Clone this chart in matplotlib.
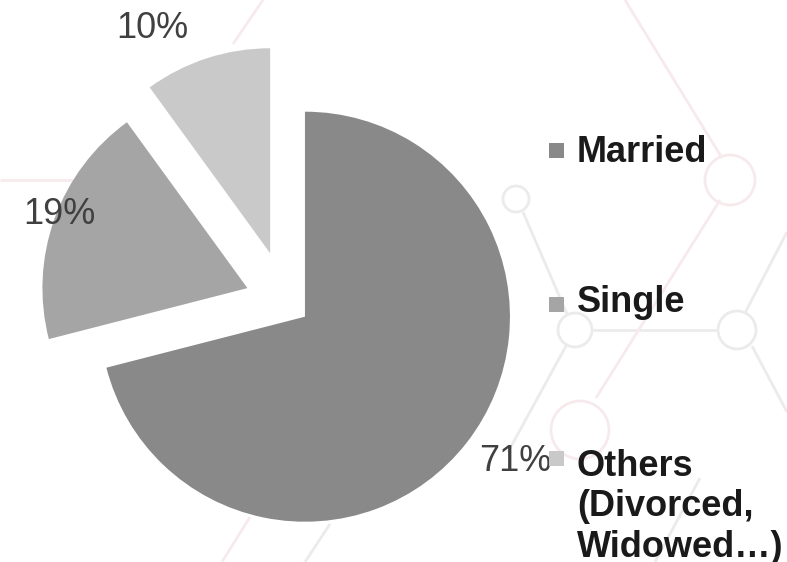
import matplotlib.pyplot as plt
import numpy as np
from matplotlib.patches import Rectangle, Circle

# данные
categories = ['Married', 'Single', 'Others\n(Divorced,\nWidowed…)']
values = [71, 19, 10]
colors = ['#898989', '#a5a5a5', '#c9c9c9']
explode = [0.117, 0.20, 0.25]

# расположение подписей процентов (доля радиуса, сдвиг угла)
pct_dist = [1.243, 0.982, 1.238]
pct_shift = [3.3, -1.5, 9.6]

W, H = 787, 562
cx_px, cy_px, r_px = 286, 302, 205

fig = plt.figure(figsize=(W / 100, H / 100), dpi=100)

# фон: бледные "молекулы" (в пикселях)
bg = fig.add_axes([0, 0, 1, 1], zorder=0)
bg.set_xlim(0, W)
bg.set_ylim(H, 0)
bg.axis('off')
grey, pink = '#ebebeb', '#f7eaec'
segs = [
    ((625, 0), (722, 158), pink),
    ((523, 212), (567, 314), grey),
    ((593, 330), (718, 330), grey),
    ((745, 313), (787, 232), grey),
    ((720, 200), (596, 398), pink),
    ((566, 346), (508, 452), grey),
    ((752, 346), (787, 412), grey),
    ((0, 180), (77, 180), pink),
    ((263, 0), (233, 44), pink),
    ((222, 562), (250, 517), pink),
    ((305, 562), (330, 524), grey),
    ((655, 562), (700, 478), grey),
]
for (x1, y1), (x2, y2), c in segs:
    bg.plot([x1, x2], [y1, y2], color=c, lw=2, solid_capstyle='butt')
for (x, y, r, c) in [(516, 199, 13, grey), (575, 330, 17, grey),
                     (737, 330, 19, grey), (730, 180, 25, pink),
                     (580, 430, 29, pink)]:
    bg.add_patch(Circle((x, y), r, fill=False, ec=c, lw=2))

ax = fig.add_axes([0, 0, 1, 1], zorder=1)
ax.patch.set_visible(False)

wedges, _ = ax.pie(values, colors=colors, startangle=90, counterclock=False,
                   explode=explode, radius=1, wedgeprops=dict(linewidth=0))

for w, v, d, s in zip(wedges, values, pct_dist, pct_shift):
    mid = np.deg2rad((w.theta1 + w.theta2) / 2 + s)
    x0, y0 = w.center
    ax.text(x0 + d * np.cos(mid), y0 + d * np.sin(mid), f'{v}%',
            ha='center', va='center', fontsize=26, color='#404040',
            family='Liberation Sans')

ax.set_aspect('auto')
ax.set_xlim(-cx_px / r_px, (W - cx_px) / r_px)
ax.set_ylim(-(H - cy_px) / r_px, cy_px / r_px)
ax.axis('off')

# легенда справа (базовая линия первой строки, верх квадрата)
leg_base = [162, 312, 470]
leg_sq = [143, 297, 451]
for name, c, yb, ys in zip(categories, colors, leg_base, leg_sq):
    fig.add_artist(Rectangle((549 / W, 1 - (ys + 15) / H), 15 / W, 15 / H,
                             transform=fig.transFigure, color=c, lw=0, zorder=5))
    nlines = name.count('\n')
    fig.text(577 / W, 1 - (yb + nlines * 43.4) / H, name, ha='left',
             va='baseline', fontsize=26, fontweight='bold', color='#1a1a1a',
             family='Liberation Sans', linespacing=1.2, zorder=4)

fig.savefig('out.png', dpi=100)
